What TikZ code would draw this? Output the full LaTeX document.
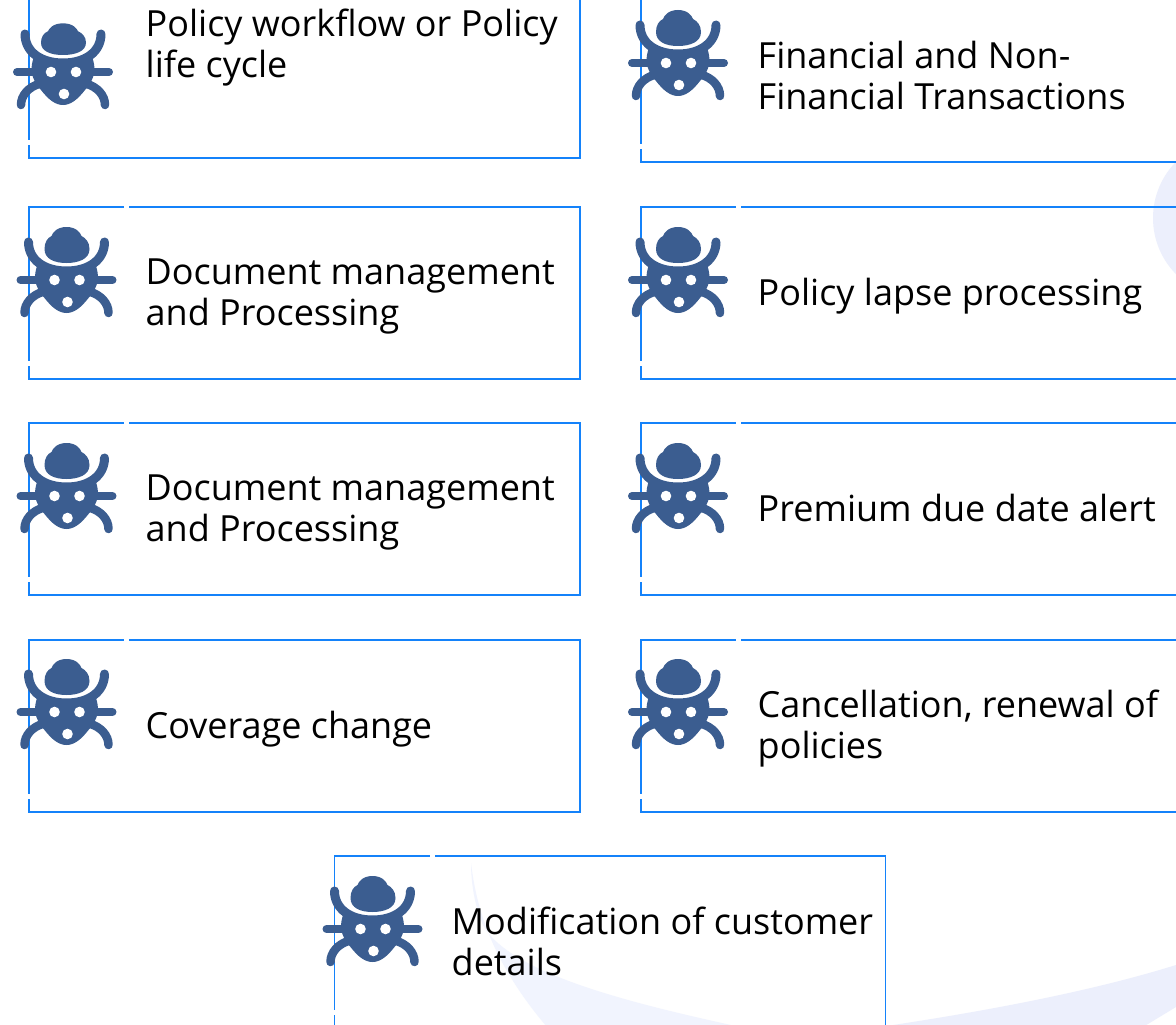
\documentclass[tikz,border=0pt]{standalone}
\usepackage{fontspec}
\setmainfont{Open Sans}
\definecolor{linebl}{HTML}{1482FA}
\definecolor{bugbl}{HTML}{3B5D90}
\definecolor{palea}{HTML}{F1F4FE}
\definecolor{paleb}{HTML}{ECEFFC}
\tikzset{
  panel/.style={draw=linebl,line width=1.8pt,rectangle,inner sep=0pt,minimum width=551pt,minimum height=172pt},
  gapmark/.style={draw=white,line width=3pt},
  caption/.style={anchor=west,inner sep=0pt,align=left,text=black,font=\fontsize{36}{41}\selectfont},
  limb/.style={draw=bugbl,line width=9pt,line cap=round},
  pics/bug/.style={code={
    \begin{scope}[shift={(0,-17)},yscale=#1]
    \fill[bugbl] (0,-36) .. controls (-10,-36) and (-14,-30) .. (-15,-27) .. controls (-19,-25) and (-22,-21) .. (-22,-14) .. controls (-22,-4) and (-12,0) .. (0,0) .. controls (12,0) and (23,-4) .. (23,-14) .. controls (23,-21) and (19,-25) .. (15,-27) .. controls (14,-30) and (10,-36) .. (0,-36) -- cycle;
    \end{scope}
    \fill[bugbl] (-29,-15) .. controls (-33,-5) and (-33,6) .. (-22,18) .. controls (-15,27) and (-8,33) .. (0,33) .. controls (8,33) and (15,27) .. (22,18) .. controls (33,6) and (33,-5) .. (29,-15) .. controls (18,-9) and (-18,-9) .. (-29,-15) -- cycle;
    \draw[limb] (-38,-38) .. controls (-38,-20) and (-22,-9) .. (0,-9) .. controls (22,-9) and (38,-20) .. (38,-38);
    \draw[limb,line width=8pt] (-46,0) -- (46,0);
    \draw[limb,line width=8.5pt] (-42,33) .. controls (-42,23) and (-34,15) .. (-24,12);
    \draw[limb,line width=8.5pt] (42,33) .. controls (42,23) and (34,15) .. (24,12);
    \fill[white] (-12,0) circle (5.3) (13,0) circle (5.3) (1,22) circle (5.3);
  }}
}
\begin{document}
\begin{tikzpicture}[x=1pt,y=-1pt]
\useasboundingbox (0,0) rectangle (1176,1025);
\clip (0,0) rectangle (1176,1025);
\fill[white] (0,0) rectangle (1176,1025);
% pale background
\fill[palea] (471,863) .. controls (476,905) and (490,960) .. (547,1027) -- (740,1027) .. controls (640,1005) and (510,975) .. (483,925) .. controls (474,905) and (471,880) .. (471,863) -- cycle;
\fill[paleb] (880,1027) .. controls (960,1015) and (1080,995) .. (1176,965) -- (1176,1007) -- (1143,1027) -- cycle;
\fill[paleb] (1233,218) circle (80);
% panels
\node[panel] (a1) at (304.5,72) {};
\node[panel] (a2) at (304.5,293) {};
\node[panel] (a3) at (304.5,509) {};
\node[panel] (a4) at (304.5,726) {};
\node[panel,minimum width=600pt] (b1) at (941,76) {};
\node[panel,minimum width=600pt] (b2) at (941,293) {};
\node[panel,minimum width=600pt] (b3) at (941,509) {};
\node[panel,minimum width=600pt] (b4) at (941,726) {};
\node[panel] (c) at (610,942) {};
% gaps in the outlines
\foreach \n in {a2,a3,a4,b2,b3,b4,c}{
  \path[gapmark] (\n.north west) ++(96,0) -- ++(5,0);
}
\foreach \n in {a1,a2,a3,a4,b1,b2,b3,b4,c}{
  \path[gapmark] (\n.south west) ++(0,-19) -- ++(0,5);
}
% bugs
\pic at (63,72) {bug=0.88};
\pic at (66.5,280) {bug=1};
\pic at (66.5,496) {bug=1};
\pic at (66.5,712) {bug=1};
\pic at (678,63) {bug=1};
\pic at (678,280) {bug=1};
\pic at (678,496) {bug=1};
\pic at (678,712) {bug=1};
\pic at (372.5,929) {bug=1};
% captions
\node[caption] (ta1) at (145.5,48) {Policy workflow or Policy\\life cycle};
\node[caption] (ta2) at (145.5,296) {Document management\\and Processing};
\node[caption] (ta3) at (145.5,512) {Document management\\and Processing};
\node[caption] (ta4) at (145.5,729) {Coverage change};
\node[caption] (tb1) at (757.5,76) {Financial and Non-\\Financial Transactions};
\node[caption] (tb2) at (757.5,296) {Policy lapse processing};
\node[caption] (tb3) at (757.5,508) {Premium due date alert};
\node[caption] (tb4) at (757.5,729) {Cancellation, renewal of\\policies};
\node[caption] (tc) at (451.5,941) {Modification of customer\\details};
\end{tikzpicture}
\end{document}
